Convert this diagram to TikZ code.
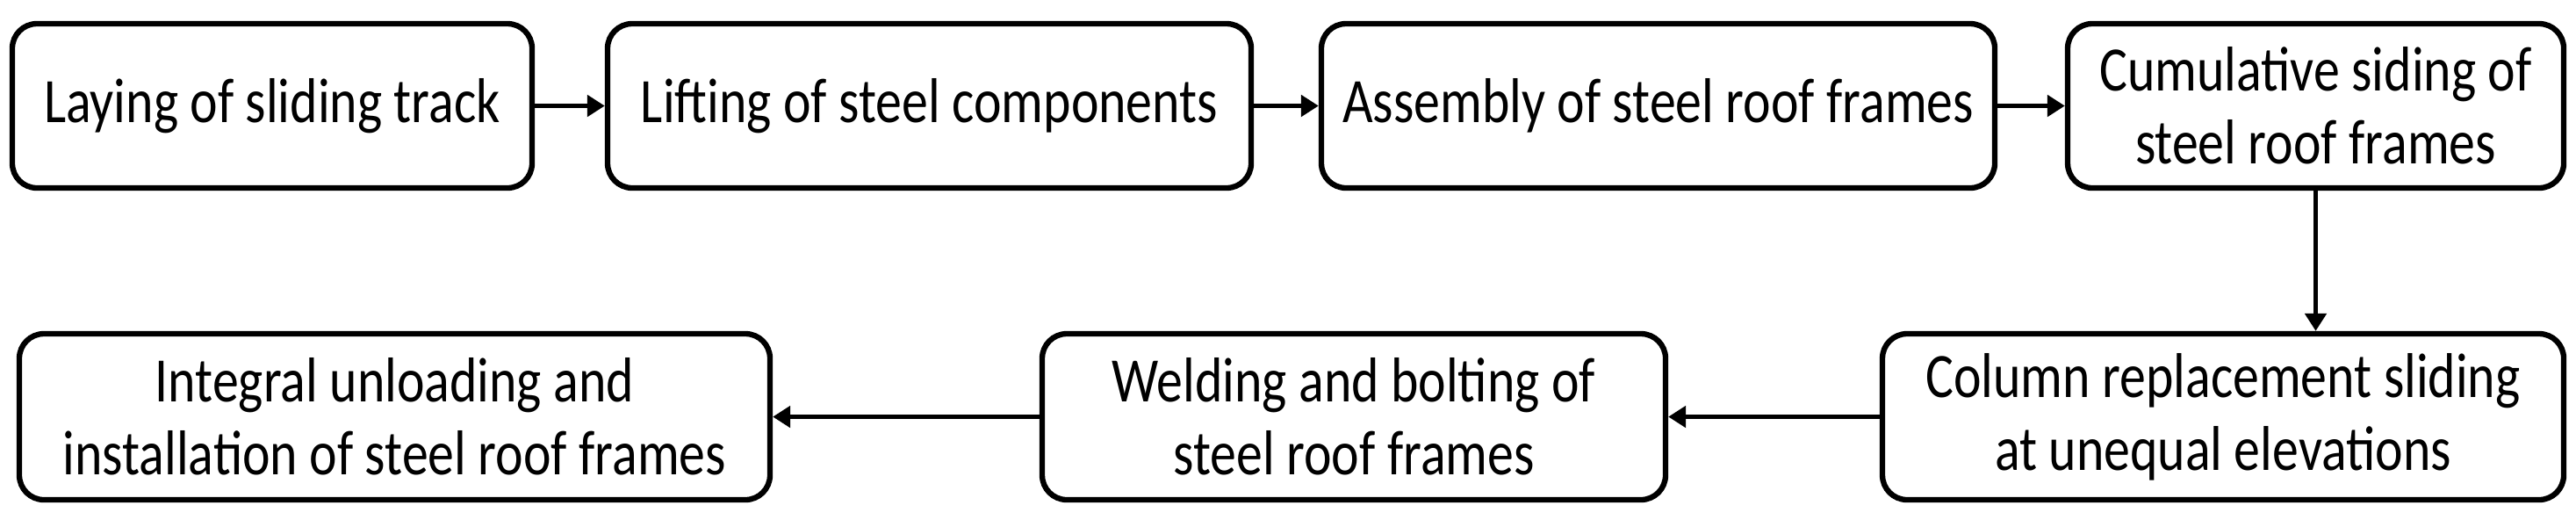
\documentclass[tikz,border=0pt]{standalone}
\usepackage{fontspec}
\setmainfont[FakeStretch=0.83]{Carlito}
\usetikzlibrary{arrows.meta}

\begin{document}
\begin{tikzpicture}[
        x=1cm,
        y=1cm,
        process step/.style={
            draw,line width=1.8pt,rounded corners=0.28cm,
            align=center,inner sep=0pt,
            font=\fontsize{20.5}{23.6}\selectfont
        },
        upper step/.style={process step,minimum height=1.87cm},
        lower step/.style={process step,minimum height=1.89cm},
        flow arrow/.style={line width=1.5pt,-{Triangle[length=2mm,width=2.4mm]}}
    ]
        \useasboundingbox (0,0) rectangle (29.34,5.99);

        % The upper row of steps, read from left to right.
        \node[upper step,minimum width=5.92cm]
            (laying) at (3.10,4.785) {Laying of sliding track};
        \node[upper step,minimum width=7.33cm]
            (lifting) at (10.585,4.785) {Lifting of steel components};
        \node[upper step,minimum width=7.67cm]
            (assembly) at (18.885,4.785) {Assembly of steel roof frames};
        \node[upper step,minimum width=5.65cm]
            (cumulative) at (26.375,4.785) {Cumulative siding of\\steel roof frames};

        % The lower row of steps, read from right to left.
        \node[lower step,minimum width=7.76cm]
            (column) at (25.32,1.245) {Column replacement sliding\\at unequal elevations};
        \node[lower step,minimum width=7.10cm]
            (welding) at (15.42,1.245) {Welding and bolting of\\steel roof frames};
        \node[lower step,minimum width=8.55cm]
            (unloading) at (4.495,1.245) {Integral unloading and\\installation of steel roof frames};

        % Connectors.
        \draw[flow arrow] (laying) -- (lifting);
        \draw[flow arrow] (lifting) -- (assembly);
        \draw[flow arrow] (assembly) -- (cumulative);
        \draw[flow arrow] (cumulative.south) -- (cumulative.south |- column.north);
        \draw[flow arrow] (column) -- (welding);
        \draw[flow arrow] (welding) -- (unloading);
    \end{tikzpicture}
\end{document}
